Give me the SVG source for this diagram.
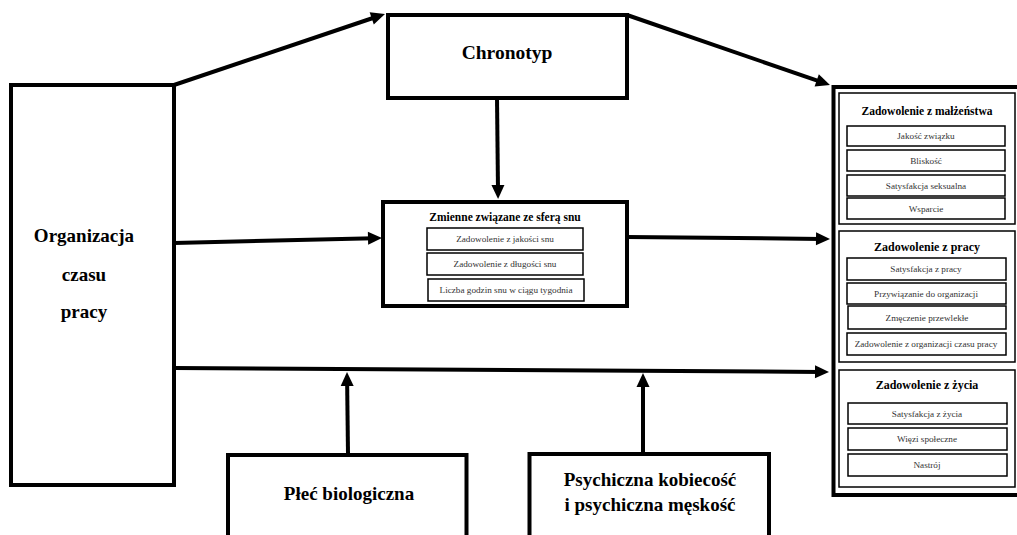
<svg xmlns="http://www.w3.org/2000/svg" width="1017" height="535" viewBox="0 0 1017 535">
<style>
.big{fill:#fff;stroke:#000;stroke-width:4}
.grp{fill:#fff;stroke:#000;stroke-width:1.5}
.sub{fill:#fff;stroke:#000;stroke-width:1.5}
text{font-family:"Liberation Serif","Times New Roman",serif;text-anchor:middle}
.t1{font-weight:bold;font-size:19px;fill:#000}
.t2{font-weight:bold;font-size:11.5px;fill:#000}
.t3{font-size:9.2px;fill:#333}
.ar{stroke:#000;stroke-width:4;fill:none;marker-end:url(#ah)}
</style>
<defs>
<marker id="ah" markerUnits="userSpaceOnUse" markerWidth="14" markerHeight="13" refX="6" refY="6.5" orient="auto" overflow="visible">
<path d="M0,0 L14,6.5 L0,13 z" fill="#000"/>
</marker>
</defs>
<rect width="1017" height="535" fill="#fff"/>
<g id="organizacja">
<rect class="big" x="11" y="85" width="163" height="400"/>
<text class="t1" x="84" y="242">Organizacja</text>
<text class="t1" x="84" y="281">czasu</text>
<text class="t1" x="84" y="318">pracy</text>
</g>
<g id="chronotyp">
<rect class="big" x="388" y="15" width="239" height="83"/>
<text class="t1" x="507" y="59" style="font-size:19.5px">Chronotyp</text>
</g>
<g id="sen">
<rect class="big" x="383" y="202" width="244" height="104"/>
<text class="t2" x="505" y="221">Zmienne związane ze sferą snu</text>
<rect class="sub" x="427" y="228" width="156" height="22"/>
<text class="t3" x="505" y="242">Zadowolenie z jakości snu</text>
<rect class="sub" x="427" y="253" width="156" height="22"/>
<text class="t3" x="505" y="267">Zadowolenie z długości snu</text>
<rect class="sub" x="428" y="279" width="156" height="22"/>
<text class="t3" x="506" y="293">Liczba godzin snu w ciągu tygodnia</text>
</g>
<g id="plec">
<rect class="big" x="228" y="455" width="238.5" height="100"/>
<text class="t1" x="349" y="500">Płeć biologiczna</text>
</g>
<g id="psychiczna">
<rect class="big" x="529.5" y="454" width="239.5" height="100"/>
<text class="t1" x="650" y="486">Psychiczna kobiecość</text>
<text class="t1" x="650" y="511">i psychiczna męskość</text>
</g>
<g id="zadowolenie">
<rect class="big" x="833.5" y="87" width="220" height="408"/>
<g id="malzenstwo">
<rect class="grp" x="839" y="93" width="176" height="131"/>
<text class="t2" x="927" y="115">Zadowolenie z małżeństwa</text>
<rect class="sub" x="847" y="126" width="158" height="20"/>
<text class="t3" x="926" y="139">Jakość związku</text>
<rect class="sub" x="847" y="150" width="158" height="21"/>
<text class="t3" x="926" y="163.5">Bliskość</text>
<rect class="sub" x="847" y="175" width="158" height="21"/>
<text class="t3" x="926" y="188.5">Satysfakcja seksualna</text>
<rect class="sub" x="847" y="198" width="158" height="21"/>
<text class="t3" x="926" y="211.5">Wsparcie</text>
</g>
<g id="praca">
<rect class="grp" x="839" y="231" width="176" height="131"/>
<text class="t2" x="927" y="251" style="font-size:12px">Zadowolenie z pracy</text>
<rect class="sub" x="847" y="258" width="159" height="22"/>
<text class="t3" x="926" y="272">Satysfakcja z pracy</text>
<rect class="sub" x="847" y="283" width="159" height="21"/>
<text class="t3" x="926" y="296.5">Przywiązanie do organizacji</text>
<rect class="sub" x="848" y="306" width="158" height="23"/>
<text class="t3" x="927" y="320.5">Zmęczenie przewlekłe</text>
<rect class="sub" x="847" y="333" width="159" height="22"/>
<text class="t3" x="926" y="347">Zadowolenie z organizacji czasu pracy</text>
</g>
<g id="zycie">
<rect class="grp" x="839" y="370" width="176" height="117"/>
<text class="t2" x="927" y="389" style="font-size:12px">Zadowolenie z życia</text>
<rect class="sub" x="848" y="403" width="159" height="21"/>
<text class="t3" x="927" y="416.5">Satysfakcja z życia</text>
<rect class="sub" x="848" y="428" width="159" height="22"/>
<text class="t3" x="927" y="442">Więzi społeczne</text>
<rect class="sub" x="848" y="454" width="159" height="22"/>
<text class="t3" x="927" y="468">Nastrój</text>
</g>
</g>
<g id="connectors">
<path class="ar" d="M174,85 L377.4,16.5"/>
<path class="ar" d="M627,15 L822.4,82.4"/>
<path class="ar" d="M497,98 L498,191"/>
<path class="ar" d="M174,243 L374,238.2"/>
<path class="ar" d="M627,237 L822,238.9"/>
<path class="ar" d="M174,368 L821,371.9"/>
<path class="ar" d="M348,453 L347.1,380"/>
<path class="ar" d="M643,452 L643,381"/>
</g>
</svg>
